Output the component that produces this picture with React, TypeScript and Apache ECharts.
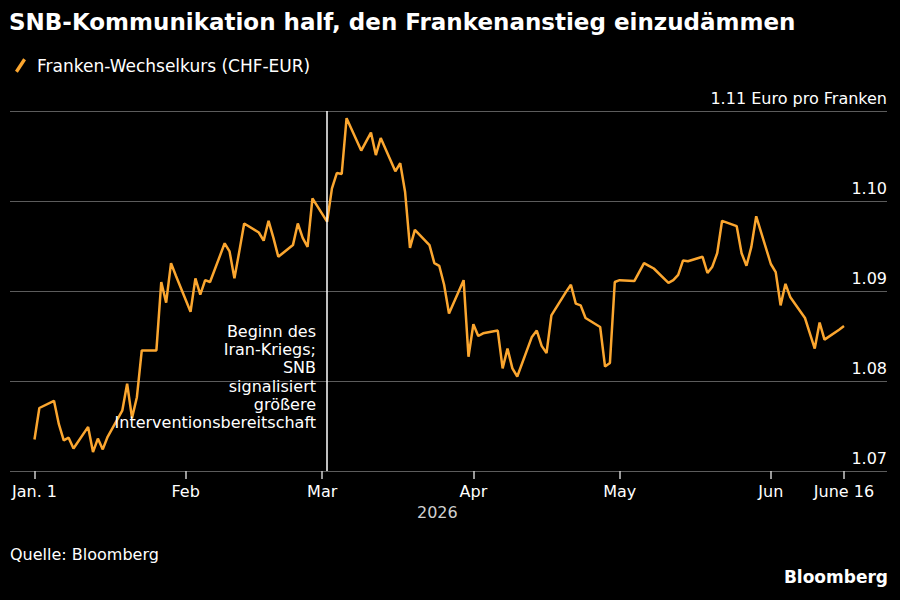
import { useEffect, useRef } from 'react';
import * as echarts from 'echarts';

const dates = [
  '2026-01-01', '2026-01-02', '2026-01-05', '2026-01-06', '2026-01-07', '2026-01-08', '2026-01-09',
  '2026-01-12', '2026-01-13', '2026-01-14', '2026-01-15', '2026-01-16',
  '2026-01-19', '2026-01-20', '2026-01-21', '2026-01-22', '2026-01-23',
  '2026-01-26', '2026-01-27', '2026-01-28', '2026-01-29', '2026-01-30',
  '2026-02-02', '2026-02-03', '2026-02-04', '2026-02-05', '2026-02-06',
  '2026-02-09', '2026-02-10', '2026-02-11', '2026-02-12', '2026-02-13',
  '2026-02-16', '2026-02-17', '2026-02-18', '2026-02-19', '2026-02-20',
  '2026-02-23', '2026-02-24', '2026-02-25', '2026-02-26', '2026-02-27',
  '2026-03-02', '2026-03-03', '2026-03-04', '2026-03-05', '2026-03-06',
  '2026-03-09', '2026-03-10', '2026-03-11', '2026-03-12', '2026-03-13',
  '2026-03-16', '2026-03-17', '2026-03-18', '2026-03-19', '2026-03-20',
  '2026-03-23', '2026-03-24', '2026-03-25', '2026-03-26', '2026-03-27',
  '2026-03-30', '2026-03-31', '2026-04-01', '2026-04-02', '2026-04-03',
  '2026-04-06', '2026-04-07', '2026-04-08', '2026-04-09', '2026-04-10',
  '2026-04-13', '2026-04-14', '2026-04-15', '2026-04-16', '2026-04-17',
  '2026-04-20', '2026-04-21', '2026-04-22', '2026-04-23', '2026-04-24',
  '2026-04-27', '2026-04-28', '2026-04-29', '2026-04-30', '2026-05-01',
  '2026-05-04', '2026-05-05', '2026-05-06', '2026-05-07', '2026-05-08',
  '2026-05-11', '2026-05-12', '2026-05-13', '2026-05-14', '2026-05-15',
  '2026-05-18', '2026-05-19', '2026-05-20', '2026-05-21', '2026-05-22',
  '2026-05-25', '2026-05-26', '2026-05-27', '2026-05-28', '2026-05-29',
  '2026-06-01', '2026-06-02', '2026-06-03', '2026-06-04', '2026-06-05',
  '2026-06-08', '2026-06-09', '2026-06-10', '2026-06-11', '2026-06-12',
  '2026-06-15', '2026-06-16',
];

const chfEur = [
  1.0735, 1.077, 1.0778, 1.0752, 1.0734, 1.0737, 1.0725,
  1.0749, 1.0721, 1.0736, 1.0724, 1.0738,
  1.0767, 1.0797, 1.0759, 1.0782, 1.0834,
  1.0834, 1.091, 1.0887, 1.0931, 1.0917,
  1.0877, 1.0914, 1.0896, 1.0912, 1.091,
  1.0953, 1.0944, 1.0914, 1.0944, 1.0975,
  1.0965, 1.0956, 1.0978, 1.0959, 1.0938,
  1.0951, 1.0975, 1.0959, 1.0949, 1.1003,
  1.0977, 1.1014, 1.1031, 1.103, 1.1092,
  1.1056, 1.1066, 1.1076, 1.1051, 1.107,
  1.1033, 1.1042, 1.101, 1.0948, 1.0968,
  1.0951, 1.0931, 1.0928, 1.0907, 1.0875,
  1.0912, 1.0827, 1.0863, 1.085, 1.0853,
  1.0856, 1.0814, 1.0836, 1.0814, 1.0805,
  1.0849, 1.0856, 1.0839, 1.0831, 1.0873,
  1.0899, 1.0907, 1.0886, 1.0884, 1.087,
  1.086, 1.0816, 1.082, 1.091, 1.0912,
  1.0911, 1.0921, 1.0931, 1.0928, 1.0925,
  1.0909, 1.0912, 1.0918, 1.0934, 1.0933,
  1.0938, 1.092, 1.0927, 1.0942, 1.0978,
  1.0972, 1.0942, 1.0928, 1.0949, 1.0983,
  1.093, 1.0921, 1.0884, 1.0908, 1.0893,
  1.087, 1.0853, 1.0836, 1.0865, 1.0846,
  1.0857, 1.0861,
];

const tickDates = ['2026-01-01', '2026-02-01', '2026-03-01', '2026-04-01', '2026-05-01', '2026-06-01', '2026-06-16'];
const tickLabels = ['Jan. 1', 'Feb', 'Mar', 'Apr', 'May', 'Jun', 'June 16'];

const eventDate = '2026-03-02';
const eventNote = 'Beginn des\nIran-Kriegs;\nSNB\nsignalisiert\ngrößere\nInterventionsbereitschaft';

const DAY = 24 * 3600 * 1000;
const FONT = '"DejaVu Sans", sans-serif';

const toTime = (d: string) => +echarts.time.parse(d);

export default function App(): JSX.Element {
  const chartRef = useRef<HTMLDivElement>(null);

  useEffect(() => {
    if (!chartRef.current) return;
    const chart = echarts.init(chartRef.current, null, { renderer: 'svg' });

    const tickTimes = tickDates.map(toTime);
    const first = tickTimes[0];
    const last = tickTimes[tickTimes.length - 1];

    const option: echarts.EChartsOption = {
      animation: false,
      backgroundColor: '#000000',
      textStyle: { fontFamily: FONT },
      title: {
        text: 'SNB-Kommunikation half, den Frankenanstieg einzudämmen',
        left: 4,
        top: 5,
        textStyle: { color: '#ffffff', fontSize: 23, fontWeight: 'bold', fontFamily: FONT },
      },
      legend: {
        left: 10,
        top: 52,
        itemWidth: 11,
        itemHeight: 15,
        icon: 'path://M0,12.5 L8.2,0 L11,1.9 L2.8,14.4 Z',
        textStyle: { color: '#ffffff', fontSize: 17, padding: [0, 0, 0, 6] },
        data: ['Franken-Wechselkurs (CHF-EUR)'],
      },
      grid: { left: 10, right: 13, top: 111, bottom: 129 },
      xAxis: {
        type: 'value',
        min: first - 5.02 * DAY,
        max: last + 8.82 * DAY,
        axisLine: { show: false },
        splitLine: { show: false },
        axisTick: {
          show: true,
          customValues: tickTimes,
          length: 8,
          lineStyle: { color: '#cccccc', width: 1.5 },
        },
        axisLabel: {
          customValues: tickTimes,
          hideOverlap: false,
          color: '#ffffff',
          fontSize: 16,
          margin: 12,
          formatter: (value: number) => {
            const i = tickTimes.indexOf(value);
            return i >= 0 ? tickLabels[i] : '';
          },
        },
      },
      yAxis: {
        type: 'value',
        position: 'right',
        min: 1.07,
        max: 1.11,
        interval: 0.01,
        axisLine: { show: false },
        axisTick: { show: false },
        splitLine: { lineStyle: { color: '#5c5c5c', width: 1 } },
        axisLabel: {
          inside: true,
          margin: 0,
          color: '#ffffff',
          fontSize: 16,
          verticalAlign: 'bottom',
          padding: [0, 0, 5, 0],
          formatter: (v: number) =>
            v.toFixed(2) === '1.11' ? '1.11 Euro pro Franken' : v.toFixed(2),
        },
      },
      series: [
        {
          name: 'Franken-Wechselkurs (CHF-EUR)',
          type: 'line',
          data: dates.map((d, i) => [toTime(d), chfEur[i]]),
          showSymbol: false,
          color: '#fba62f',
          lineStyle: { color: '#fba62f', width: 2.5 },
          markLine: {
            silent: true,
            symbol: 'none',
            label: { show: false },
            lineStyle: { color: '#ffffff', width: 1.5, type: 'solid' },
            data: [{ xAxis: toTime(eventDate) }],
          },
        },
      ],
      graphic: [
        {
          type: 'text',
          x: 316,
          y: 322,
          z: 10,
          style: {
            text: eventNote,
            fill: '#ffffff',
            font: `16px ${FONT}`,
            textAlign: 'right',
            align: 'right',
            lineHeight: 18.3,
          } as any,
        },
        {
          type: 'text',
          left: 417,
          top: 504,
          style: { text: '2026', fill: '#d0d0d0', font: `16px ${FONT}` },
        },
        {
          type: 'text',
          left: 10,
          top: 546,
          style: { text: 'Quelle: Bloomberg', fill: '#ffffff', font: `16px ${FONT}` },
        },
        {
          type: 'text',
          right: 12,
          top: 568,
          style: { text: 'Bloomberg', fill: '#ffffff', font: `bold 17px ${FONT}` },
        },
      ],
    };

    chart.setOption(option);

    return () => {
      chart.dispose();
    };
  }, []);

  return (
    <div
      ref={chartRef}
      style={{ position: 'fixed', left: 0, top: 0, width: 900, height: 600 }}
    />
  );
}
